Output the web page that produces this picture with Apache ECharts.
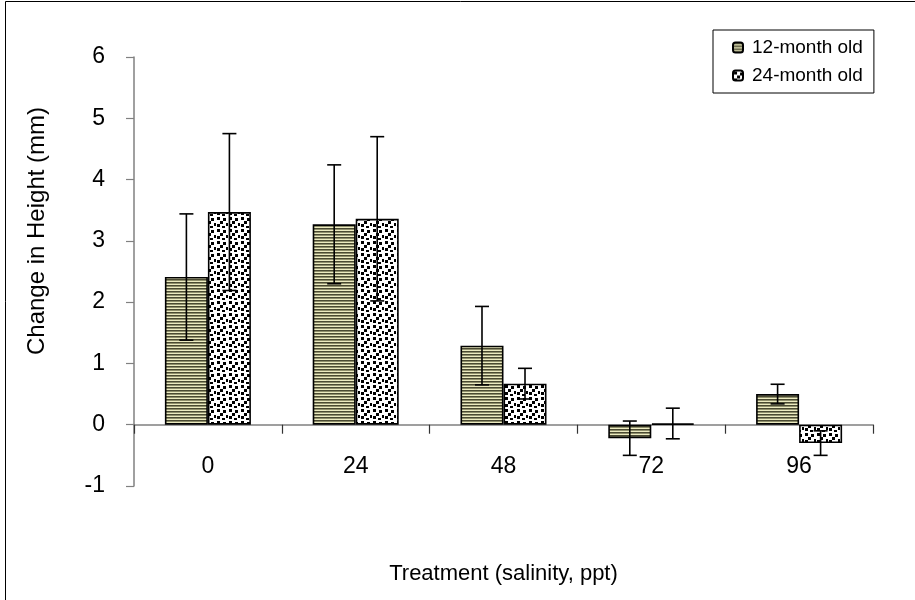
<!DOCTYPE html>
<html>
<head>
<meta charset="utf-8">
<script src="https://cdn.jsdelivr.net/npm/echarts@6/dist/echarts.min.js"></script>
<style>
html,body{margin:0;padding:0;background:#fff;}
#chart{width:915px;height:600px;}
</style>
</head>
<body>
<div id="chart"></div>
<script>
// ---- data ----
var categories = ['0', '24', '48', '72', '96'];
var seriesNames = ['12-month old', '24-month old'];
var values12 = [2.41, 3.27, 1.29, -0.22, 0.50];
var errors12 = [1.03, 0.97, 0.64, 0.28, 0.16];
var values24 = [3.47, 3.36, 0.67, 0.02, -0.30];
var errors24 = [1.28, 1.34, 0.25, 0.25, 0.20];
var yTicks = [-1, 0, 1, 2, 3, 4, 5, 6];

// ---- patterns ----
function stripePattern() {
  var c = document.createElement('canvas');
  c.width = 4; c.height = 3;
  var g = c.getContext('2d');
  g.fillStyle = '#ecebc0'; g.fillRect(0, 0, 4, 3);
  g.fillStyle = '#4a4a32'; g.fillRect(0, 0, 4, 1);
  g.fillStyle = '#8f8f6c'; g.fillRect(0, 1, 4, 1);
  return c;
}
function dotPattern() {
  var c = document.createElement('canvas');
  c.width = 12; c.height = 12;
  var g = c.getContext('2d');
  g.fillStyle = '#ffffff'; g.fillRect(0, 0, 12, 12);
  g.fillStyle = '#000000';
  var pts = [[1,1],[7,2],[4,5],[10,7],[1,8],[6,10]];
  pts.forEach(function (p) { g.fillRect(p[0], p[1], 3, 3); });
  return c;
}
var pat12 = { image: stripePattern(), repeat: 'repeat' };
var pat24 = { image: dotPattern(), repeat: 'repeat' };

var chart = echarts.init(document.getElementById('chart'), null, { renderer: 'canvas' });

var BAR_FRAC = 0.291;

function errorRender(sign, vals, errs) {
  return function (params, api) {
    var i = api.value(0);
    var v = vals[i], e = errs[i];
    var catW = api.size([1, 0])[0];
    var bw = catW * BAR_FRAC;
    var cx = api.coord([i, 0])[0] + sign * bw / 2;
    var yt = api.coord([i, v + e])[1];
    var yb = api.coord([i, v - e])[1];
    var cap = 7;
    var st = { stroke: '#000', lineWidth: 1.6 };
    return {
      type: 'group',
      children: [
        { type: 'line', shape: { x1: cx, y1: yt, x2: cx, y2: yb }, style: st },
        { type: 'line', shape: { x1: cx - cap, y1: yt, x2: cx + cap, y2: yt }, style: st },
        { type: 'line', shape: { x1: cx - cap, y1: yb, x2: cx + cap, y2: yb }, style: st }
      ]
    };
  };
}

var option = {
  backgroundColor: '#ffffff',
  animation: false,
  textStyle: { fontFamily: 'Liberation Sans, Arial, sans-serif' },
  grid: { left: 134, right: 42, top: 57, bottom: 114, containLabel: false, outerBoundsMode: 'none' },
  legend: {
    orient: 'vertical',
    left: 713,
    top: 30,
    data: seriesNames,
    itemWidth: 10,
    itemHeight: 10,
    itemGap: 9,
    padding: [8, 11, 8, 19],
    borderColor: '#000',
    borderWidth: 1,
    backgroundColor: '#fff',
    textStyle: { fontSize: 19, color: '#000', padding: [0, 0, 0, 4], fontFamily: 'Liberation Sans, Arial, sans-serif' }
  },
  xAxis: {
    type: 'category',
    data: categories,
    axisLine: { onZero: true, lineStyle: { color: '#808080', width: 1.5 } },
    axisTick: { show: true, alignWithLabel: false, length: 9, lineStyle: { color: '#333', width: 1.2 } },
    axisLabel: { margin: -31, fontSize: 23, color: '#000' },
    name: 'Treatment (salinity, ppt)',
    nameLocation: 'middle',
    nameGap: 77,
    nameTextStyle: { fontSize: 22, color: '#000' },
    splitLine: { show: false }
  },
  yAxis: {
    type: 'value',
    min: -1,
    max: 6,
    interval: 1,
    axisLine: { show: true, onZero: false, lineStyle: { color: '#808080', width: 1.5 } },
    axisTick: { show: true, length: 8, lineStyle: { color: '#808080', width: 1.2 } },
    axisLabel: {
      margin: 29, fontSize: 23, color: '#000',
      formatter: function (v) { return yTicks.indexOf(v) >= 0 ? String(v) : ''; }
    },
    splitLine: { show: false }
  },
  graphic: [
    {
      type: 'rect', silent: true, z: 100,
      shape: { x: 5.5, y: 1.5, width: 930, height: 620 },
      style: { fill: 'none', stroke: '#000', lineWidth: 1 }
    },
    {
      type: 'text', silent: true,
      x: 37, y: 231, rotation: Math.PI / 2,
      style: {
        text: 'Change in Height (mm)',
        fontSize: 24, fill: '#000',
        fontFamily: 'Liberation Sans, Arial, sans-serif',
        align: 'center', verticalAlign: 'middle'
      }
    }
  ],
  series: [
    {
      name: seriesNames[0], type: 'bar', data: values12,
      barWidth: (BAR_FRAC * 100) + '%', barGap: '0%',
      itemStyle: { color: pat12, borderColor: '#000', borderWidth: 1.6 }
    },
    {
      name: seriesNames[1], type: 'bar', data: values24,
      barWidth: (BAR_FRAC * 100) + '%', barGap: '0%',
      itemStyle: { color: pat24, borderColor: '#000', borderWidth: 1.6 }
    },
    {
      name: 'err12', type: 'custom', z: 10,
      data: values12.map(function (v, i) { return [i, v]; }),
      renderItem: errorRender(-1, values12, errors12),
      encode: { x: 0, y: 1 }, silent: true
    },
    {
      name: 'err24', type: 'custom', z: 10,
      data: values24.map(function (v, i) { return [i, v]; }),
      renderItem: errorRender(1, values24, errors24),
      encode: { x: 0, y: 1 }, silent: true
    }
  ]
};
chart.setOption(option);
</script>
</body>
</html>
